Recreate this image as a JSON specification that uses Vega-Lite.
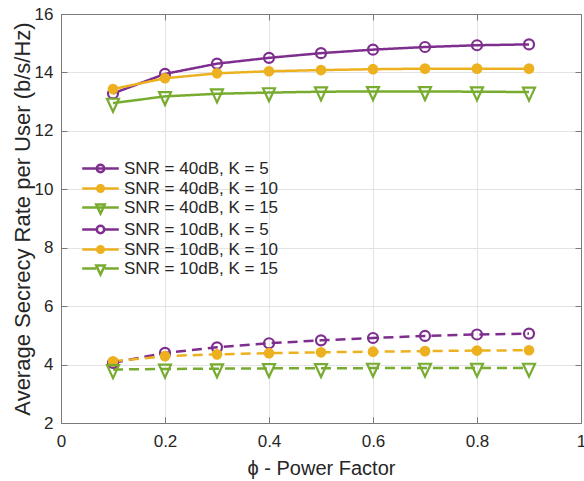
{
  "$schema": "https://vega.github.io/schema/vega-lite/v6.json",
  "width": 520,
  "height": 409,
  "autosize": "none",
  "padding": {"left": 61, "top": 14, "right": 3, "bottom": 58},
  "background": "white",
  "config": {
    "font": "Liberation Sans",
    "view": {"stroke": "#7a7a7a", "strokeWidth": 1},
    "axis": {
      "labelFont": "Liberation Sans",
      "labelFontSize": 17,
      "labelColor": "#262626",
      "titleFont": "Liberation Sans",
      "titleFontSize": 20,
      "titleFontWeight": "normal",
      "titleColor": "#262626",
      "domainColor": "#7a7a7a",
      "tickColor": "#7a7a7a",
      "gridColor": "#e3e3e3",
      "gridWidth": 1
    },
    "legend": {
      "labelFont": "Liberation Sans",
      "labelFontSize": 17,
      "labelColor": "#262626"
    }
  },
  "data": {
    "values": [
      {"s": "SNR = 40dB, K = 5", "phi": 0.1, "r": 13.28},
      {"s": "SNR = 40dB, K = 5", "phi": 0.2, "r": 13.95},
      {"s": "SNR = 40dB, K = 5", "phi": 0.3, "r": 14.3},
      {"s": "SNR = 40dB, K = 5", "phi": 0.4, "r": 14.5},
      {"s": "SNR = 40dB, K = 5", "phi": 0.5, "r": 14.66},
      {"s": "SNR = 40dB, K = 5", "phi": 0.6, "r": 14.78},
      {"s": "SNR = 40dB, K = 5", "phi": 0.7, "r": 14.87},
      {"s": "SNR = 40dB, K = 5", "phi": 0.8, "r": 14.93},
      {"s": "SNR = 40dB, K = 5", "phi": 0.9, "r": 14.96},
      {"s": "SNR = 40dB, K = 10", "phi": 0.1, "r": 13.43},
      {"s": "SNR = 40dB, K = 10", "phi": 0.2, "r": 13.8},
      {"s": "SNR = 40dB, K = 10", "phi": 0.3, "r": 13.97},
      {"s": "SNR = 40dB, K = 10", "phi": 0.4, "r": 14.04},
      {"s": "SNR = 40dB, K = 10", "phi": 0.5, "r": 14.08},
      {"s": "SNR = 40dB, K = 10", "phi": 0.6, "r": 14.11},
      {"s": "SNR = 40dB, K = 10", "phi": 0.7, "r": 14.13},
      {"s": "SNR = 40dB, K = 10", "phi": 0.8, "r": 14.13},
      {"s": "SNR = 40dB, K = 10", "phi": 0.9, "r": 14.13},
      {"s": "SNR = 40dB, K = 15", "phi": 0.1, "r": 12.95},
      {"s": "SNR = 40dB, K = 15", "phi": 0.2, "r": 13.18},
      {"s": "SNR = 40dB, K = 15", "phi": 0.3, "r": 13.27},
      {"s": "SNR = 40dB, K = 15", "phi": 0.4, "r": 13.31},
      {"s": "SNR = 40dB, K = 15", "phi": 0.5, "r": 13.34},
      {"s": "SNR = 40dB, K = 15", "phi": 0.6, "r": 13.35},
      {"s": "SNR = 40dB, K = 15", "phi": 0.7, "r": 13.35},
      {"s": "SNR = 40dB, K = 15", "phi": 0.8, "r": 13.34},
      {"s": "SNR = 40dB, K = 15", "phi": 0.9, "r": 13.33},
      {"s": "SNR = 10dB, K = 5", "phi": 0.1, "r": 4.06},
      {"s": "SNR = 10dB, K = 5", "phi": 0.2, "r": 4.4},
      {"s": "SNR = 10dB, K = 5", "phi": 0.3, "r": 4.59},
      {"s": "SNR = 10dB, K = 5", "phi": 0.4, "r": 4.73},
      {"s": "SNR = 10dB, K = 5", "phi": 0.5, "r": 4.83},
      {"s": "SNR = 10dB, K = 5", "phi": 0.6, "r": 4.91},
      {"s": "SNR = 10dB, K = 5", "phi": 0.7, "r": 4.98},
      {"s": "SNR = 10dB, K = 5", "phi": 0.8, "r": 5.03},
      {"s": "SNR = 10dB, K = 5", "phi": 0.9, "r": 5.06},
      {"s": "SNR = 10dB, K = 10", "phi": 0.1, "r": 4.11},
      {"s": "SNR = 10dB, K = 10", "phi": 0.2, "r": 4.29},
      {"s": "SNR = 10dB, K = 10", "phi": 0.3, "r": 4.35},
      {"s": "SNR = 10dB, K = 10", "phi": 0.4, "r": 4.39},
      {"s": "SNR = 10dB, K = 10", "phi": 0.5, "r": 4.42},
      {"s": "SNR = 10dB, K = 10", "phi": 0.6, "r": 4.44},
      {"s": "SNR = 10dB, K = 10", "phi": 0.7, "r": 4.46},
      {"s": "SNR = 10dB, K = 10", "phi": 0.8, "r": 4.48},
      {"s": "SNR = 10dB, K = 10", "phi": 0.9, "r": 4.49},
      {"s": "SNR = 10dB, K = 15", "phi": 0.1, "r": 3.83},
      {"s": "SNR = 10dB, K = 15", "phi": 0.2, "r": 3.85},
      {"s": "SNR = 10dB, K = 15", "phi": 0.3, "r": 3.86},
      {"s": "SNR = 10dB, K = 15", "phi": 0.4, "r": 3.87},
      {"s": "SNR = 10dB, K = 15", "phi": 0.5, "r": 3.87},
      {"s": "SNR = 10dB, K = 15", "phi": 0.6, "r": 3.88},
      {"s": "SNR = 10dB, K = 15", "phi": 0.7, "r": 3.88},
      {"s": "SNR = 10dB, K = 15", "phi": 0.8, "r": 3.88},
      {"s": "SNR = 10dB, K = 15", "phi": 0.9, "r": 3.88}
    ]
  },
  "layer": [
    {
      "mark": {"type": "line", "strokeWidth": 2.5},
      "encoding": {
        "x": {
          "field": "phi", "type": "quantitative",
          "scale": {"domain": [0, 1], "nice": false, "zero": false},
          "axis": {"orient": "bottom", "values": [0, 0.2, 0.4, 0.6, 0.8, 1], "format": "~g", "title": "ϕ - Power Factor", "tickSize": -6, "labelPadding": 16, "titlePadding": 9, "grid": true, "labelFlush": false}
        },
        "y": {
          "field": "r", "type": "quantitative",
          "scale": {"domain": [2, 16], "nice": false, "zero": false},
          "axis": {"orient": "left", "values": [2, 4, 6, 8, 10, 12, 14, 16], "title": "Average Secrecy Rate per User (b/s/Hz)", "titleFontSize": 22, "tickSize": -6, "labelPadding": 14, "titlePadding": 0, "grid": true, "labelFlush": false}
        },
        "stroke": {
          "field": "s", "type": "nominal",
          "scale": {
            "domain": ["SNR = 40dB, K = 5", "SNR = 40dB, K = 10", "SNR = 40dB, K = 15", "SNR = 10dB, K = 5", "SNR = 10dB, K = 10", "SNR = 10dB, K = 15"],
            "range": ["#7E2F8E", "#EDB120", "#77AC30", "#7E2F8E", "#EDB120", "#77AC30"]
          },
          "legend": {
            "title": null,
            "orient": "none",
            "legendX": 31,
            "legendY": 146,
            "padding": 0,
            "symbolSize": 100,
            "symbolStrokeWidth": 2.5,
            "labelFont": "Liberation Sans",
            "labelFontSize": 17,
            "labelColor": "#262626",
            "labelOffset": 15,
            "rowPadding": 1,
            "encoding": {
              "symbols": {
                "shape": {
                  "condition": [
                    {"test": "datum.value === 'SNR = 40dB, K = 5'", "value": "M-3.66,0L3.66,0M-0.74,0A0.74,0.74 0 1 0 0.74,0A0.74,0.74 0 1 0 -0.74,0Z"},
                    {"test": "datum.value === 'SNR = 10dB, K = 5'", "value": "M-3.66,0L-0.74,0M0.74,0L3.66,0M-0.74,0A0.74,0.74 0 1 0 0.74,0A0.74,0.74 0 1 0 -0.74,0Z"},
                    {"test": "datum.value === 'SNR = 40dB, K = 15'", "value": "M-3.66,0L3.66,0M-0.85,-0.6L0.85,-0.6L0,1.2Z"},
                    {"test": "datum.value === 'SNR = 10dB, K = 15'", "value": "M-3.66,0L-0.85,0M0.85,0L3.66,0M-0.85,-0.6L0.85,-0.6L0,1.2Z"}
                  ],
                  "value": "M-3.66,0L3.66,0M-0.66,0A0.66,0.66 0 1 0 0.66,0A0.66,0.66 0 1 0 -0.66,0Z"
                },
                "fill": {
                  "condition": {"test": "indexof(datum.value, 'K = 10') >= 0", "value": "#EDB120"},
                  "value": "transparent"
                }
              }
            }
          }
        },
        "strokeDash": {
          "field": "s", "type": "nominal", "sort": null,
          "scale": {"range": [[1, 0], [1, 0], [1, 0], [10, 6], [10, 6], [10, 6]]},
          "legend": null
        }
      }
    },
    {
      "mark": {"type": "point", "strokeWidth": 2.2, "size": 100, "opacity": 1, "filled": false},
      "encoding": {
        "x": {
          "field": "phi", "type": "quantitative",
          "axis": {"orient": "top", "values": [0, 0.2, 0.4, 0.6, 0.8, 1], "labels": false, "title": null, "tickSize": -6, "grid": false}
        },
        "y": {
          "field": "r", "type": "quantitative",
          "axis": {"orient": "right", "values": [2, 4, 6, 8, 10, 12, 14, 16], "labels": false, "title": null, "tickSize": -6, "grid": false}
        },
        "color": {
          "field": "s", "type": "nominal", "sort": null,
          "scale": {"range": ["#7E2F8E", "#EDB120", "#77AC30", "#7E2F8E", "#EDB120", "#77AC30"]},
          "legend": null
        },
        "shape": {
          "field": "s", "type": "nominal", "sort": null,
          "scale": {
            "range": ["circle", "M-0.85,0A0.85,0.85 0 1 0 0.85,0A0.85,0.85 0 1 0 -0.85,0Z", "M-1.2,-0.87L1.2,-0.87L0,1.73Z", "circle", "M-0.85,0A0.85,0.85 0 1 0 0.85,0A0.85,0.85 0 1 0 -0.85,0Z", "M-1.2,-0.87L1.2,-0.87L0,1.73Z"]
          },
          "legend": null
        },
        "fill": {
          "field": "s", "type": "nominal", "sort": null,
          "scale": {"range": ["transparent", "#EDB120", "transparent", "transparent", "#EDB120", "transparent"]},
          "legend": null
        }
      }
    }
  ],
  "resolve": {"axis": {"x": "independent", "y": "independent"}}
}
